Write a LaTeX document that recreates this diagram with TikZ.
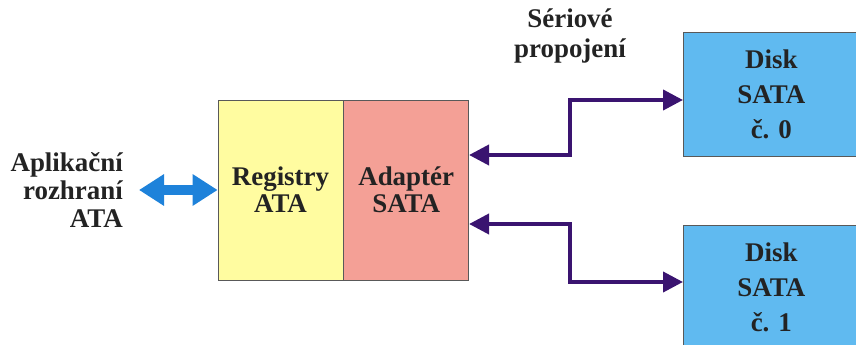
\documentclass[tikz,border=0pt]{standalone}
\usepackage{fontspec}
\newfontfamily\diafont{Liberation Serif}
\usepackage{tikz}
\usepackage{xcolor}
\usetikzlibrary{shapes,arrows.meta,positioning,calc}

\definecolor{regyellow}{RGB}{255,252,160}
\definecolor{adasalmon}{RGB}{244,160,150}
\definecolor{diskblue}{RGB}{96,186,240}
\definecolor{linkpurple}{RGB}{58,20,112}
\definecolor{apiblue}{RGB}{30,130,218}
\definecolor{txtgray}{RGB}{35,35,35}

\begin{document}
\begin{tikzpicture}[
    x=0.03cm, y=-0.03cm,
    box/.style={rectangle, draw=gray!70!black, line width=0.6pt, minimum width=3.75cm, minimum height=5.4cm, align=center, inner sep=0pt, text=txtgray, font=\diafont\bfseries\fontsize{23}{23}\selectfont},
    disk/.style={box, fill=diskblue, minimum width=5.28cm, minimum height=3.72cm, font=\diafont\bfseries\fontsize{23}{30}\selectfont},
    label/.style={align=center, text=txtgray, font=\diafont\bfseries\fontsize{23}{24}\selectfont},
    link/.style={{Triangle[length=0.6cm,width=0.6cm]}-{Triangle[length=0.6cm,width=0.6cm]}, line width=3.4pt, linkpurple},
    api/.style={{Triangle[length=0.75cm,width=0.9cm]}-{Triangle[length=0.75cm,width=0.9cm]}, line width=8.5pt, apiblue}
]
    \clip (0,0) rectangle (856,345);
    \useasboundingbox (0,0) rectangle (856,345);

    \node[box, fill=regyellow] (registry) at (280.5,190) {Registry\\ATA};
    \node[box, fill=adasalmon, right=0pt of registry] (adapter) {Adaptér\\SATA};
    \node[disk, anchor=north west] (disk0) at (683,32) {Disk\\SATA\\č. 0};
    \node[disk, anchor=north west] (disk1) at (683,225) {Disk\\SATA\\č. 1};

    \node[label, align=right, anchor=east] (api) at (127,190) {Aplikační\\rozhraní\\ATA};
    \node[label, font=\diafont\bfseries\fontsize{23}{25.5}\selectfont] (serial) at (570,36) {Sériové\\propojení};

    \coordinate (apiend) at (139,190);
    \draw[api] (apiend) -- (registry.west);
    \draw[link] ([yshift=1.05cm]adapter.east) -- (570,155) -- (570,100) -- (disk0.west |- 0,100);
    \draw[link] ([yshift=-1.02cm]adapter.east) -- (570,224) -- (570,282) -- (disk1.west |- 0,282);
\end{tikzpicture}
\end{document}
